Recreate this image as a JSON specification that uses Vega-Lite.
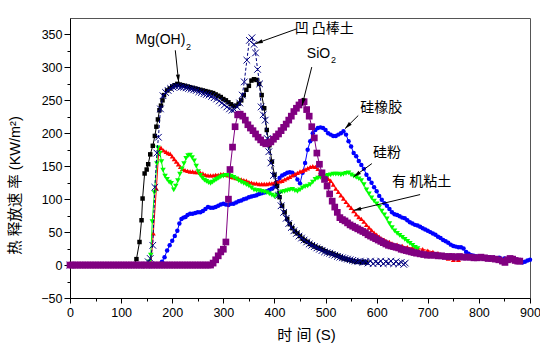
{
  "$schema": "https://vega.github.io/schema/vega-lite/v6.json",
  "width": 460,
  "height": 280,
  "autosize": {"type": "none"},
  "padding": {"left": 70, "top": 18, "right": 10, "bottom": 49},
  "background": "white",
  "config": {
    "font": "Liberation Sans, Arial, Noto Sans CJK SC",
    "view": {"stroke": "#555", "strokeWidth": 1},
    "axis": {"domainColor": "#000", "tickColor": "#000", "labelColor": "#000", "titleColor": "#000", "grid": false, "labelFontSize": 12.5, "labelOverlap": false, "labelFlush": false, "titleFontWeight": "normal"}
  },
  "encoding": {
    "x": {"field": "t", "type": "quantitative", "scale": {"domain": [0, 900], "nice": false, "zero": false},
      "axis": {"title": "时 间  (S)", "values": [0,50,100,150,200,250,300,350,400,450,500,550,600,650,700,750,800,850,900],
        "labelExpr": "datum.value % 100 === 0 ? datum.label : ''", "format": "d",
        "tickSize": {"condition": {"test": "datum.value % 100 !== 0", "value": 3}, "value": 5},
        "labelPadding": 3, "titleFontSize": 15, "titleY": 36, "titleBaseline": "middle", "titleX": 236}},
    "y": {"field": "v", "type": "quantitative", "scale": {"domain": [-50, 375], "nice": false, "zero": false},
      "axis": {"title": "热 释放速 率 (KW/m²)", "values": [-50,-25,0,25,50,75,100,125,150,175,200,225,250,275,300,325,350],
        "labelExpr": "datum.value % 50 === 0 ? datum.label : ''", "format": "d",
        "tickSize": {"condition": {"test": "datum.value % 50 !== 0", "value": 3}, "value": 6},
        "labelPadding": 2, "titleFontSize": 14.5, "titleX": -55, "titleY": 167, "titleAngle": 270, "titleBaseline": "middle", "titleAlign": "center"}}
  },
  "layer": [
    {
      "data": {"values": [
        {"t":0,"v":0},{"t":175,"v":0},{"t":180,"v":5},{"t":185,"v":12},{"t":190,"v":22},{"t":195,"v":30},{"t":200,"v":37},{"t":205,"v":44},{"t":210,"v":52},{"t":214,"v":63},{"t":218,"v":70},{"t":222,"v":72},{"t":226,"v":73},{"t":230,"v":76},{"t":235,"v":78},{"t":240,"v":78},{"t":245,"v":79},{"t":250,"v":80},{"t":255,"v":80},{"t":260,"v":82},{"t":265,"v":85},{"t":270,"v":88},{"t":275,"v":87},{"t":280,"v":87},{"t":285,"v":88},{"t":290,"v":90},{"t":295,"v":92},{"t":300,"v":93},{"t":305,"v":92},{"t":310,"v":91},{"t":315,"v":93},{"t":320,"v":93},{"t":325,"v":95},{"t":330,"v":97},{"t":335,"v":98},{"t":340,"v":100},{"t":345,"v":101},{"t":350,"v":103},{"t":355,"v":104},{"t":360,"v":105},{"t":365,"v":106},{"t":370,"v":108},{"t":375,"v":109},{"t":380,"v":110},{"t":385,"v":112},{"t":390,"v":114},{"t":395,"v":116},{"t":400,"v":120},{"t":405,"v":126},{"t":410,"v":132},{"t":415,"v":136},{"t":420,"v":138},{"t":425,"v":140},{"t":430,"v":141},{"t":435,"v":140},{"t":440,"v":137},{"t":445,"v":130},{"t":450,"v":124},{"t":455,"v":140},{"t":460,"v":155},{"t":465,"v":175},{"t":470,"v":188},{"t":475,"v":200},{"t":480,"v":205},{"t":485,"v":208},{"t":490,"v":209},{"t":495,"v":208},{"t":500,"v":205},{"t":505,"v":200},{"t":510,"v":198},{"t":515,"v":196},{"t":520,"v":196},{"t":525,"v":198},{"t":530,"v":200},{"t":535,"v":203},{"t":540,"v":198},{"t":545,"v":188},{"t":550,"v":180},{"t":555,"v":170},{"t":560,"v":165},{"t":565,"v":158},{"t":570,"v":152},{"t":575,"v":146},{"t":580,"v":137},{"t":585,"v":131},{"t":590,"v":125},{"t":595,"v":118},{"t":600,"v":112},{"t":605,"v":105},{"t":610,"v":99},{"t":615,"v":94},{"t":620,"v":90},{"t":625,"v":85},{"t":630,"v":80},{"t":635,"v":77},{"t":640,"v":76},{"t":645,"v":74},{"t":650,"v":72},{"t":655,"v":71},{"t":660,"v":68},{"t":665,"v":65},{"t":670,"v":63},{"t":675,"v":61},{"t":680,"v":60},{"t":685,"v":58},{"t":690,"v":56},{"t":695,"v":54},{"t":700,"v":52},{"t":705,"v":50},{"t":710,"v":48},{"t":715,"v":46},{"t":720,"v":43},{"t":725,"v":41},{"t":730,"v":38},{"t":735,"v":36},{"t":740,"v":34},{"t":745,"v":31},{"t":750,"v":29},{"t":755,"v":28},{"t":760,"v":27},{"t":765,"v":27},{"t":770,"v":25},{"t":775,"v":20},{"t":780,"v":17},{"t":785,"v":15},{"t":790,"v":14},{"t":795,"v":13},{"t":800,"v":13},{"t":810,"v":12},{"t":820,"v":12},{"t":830,"v":11},{"t":840,"v":11},{"t":850,"v":10},{"t":860,"v":9},{"t":870,"v":8},{"t":880,"v":6},{"t":885,"v":4},{"t":890,"v":5},{"t":895,"v":7},{"t":900,"v":8}
      ]},
      "mark": {"type": "line", "color": "#0000FF", "strokeWidth": 1, "point": {"shape": "circle", "size": 20, "filled": true, "color": "#0000FF"}}
    },
    {
      "data": {"values": [
        {"t":0,"v":0},{"t":158,"v":0},{"t":163,"v":48},{"t":169,"v":116},{"t":174,"v":177},{"t":178,"v":178},{"t":183,"v":174},{"t":188,"v":172},{"t":192,"v":170},{"t":196,"v":169},{"t":200,"v":165},{"t":204,"v":161},{"t":208,"v":157},{"t":212,"v":153},{"t":216,"v":149},{"t":220,"v":146},{"t":225,"v":144},{"t":230,"v":143},{"t":235,"v":142},{"t":240,"v":142},{"t":245,"v":141},{"t":250,"v":141},{"t":255,"v":140},{"t":260,"v":139},{"t":265,"v":137},{"t":270,"v":136},{"t":275,"v":136},{"t":280,"v":136},{"t":285,"v":137},{"t":290,"v":137},{"t":295,"v":138},{"t":300,"v":138},{"t":305,"v":137},{"t":310,"v":136},{"t":315,"v":134},{"t":320,"v":133},{"t":325,"v":132},{"t":330,"v":131},{"t":335,"v":130},{"t":340,"v":129},{"t":345,"v":128},{"t":350,"v":126},{"t":355,"v":125},{"t":360,"v":124},{"t":365,"v":124},{"t":370,"v":123},{"t":375,"v":123},{"t":380,"v":123},{"t":385,"v":123},{"t":390,"v":124},{"t":395,"v":124},{"t":400,"v":125},{"t":405,"v":126},{"t":410,"v":127},{"t":415,"v":128},{"t":420,"v":130},{"t":425,"v":132},{"t":430,"v":134},{"t":435,"v":136},{"t":440,"v":138},{"t":445,"v":140},{"t":450,"v":142},{"t":455,"v":143},{"t":460,"v":145},{"t":465,"v":147},{"t":470,"v":149},{"t":475,"v":150},{"t":480,"v":149},{"t":485,"v":146},{"t":490,"v":141},{"t":495,"v":137},{"t":500,"v":134},{"t":505,"v":131},{"t":510,"v":128},{"t":515,"v":122},{"t":520,"v":116},{"t":525,"v":111},{"t":530,"v":106},{"t":535,"v":101},{"t":540,"v":96},{"t":545,"v":91},{"t":550,"v":87},{"t":555,"v":82},{"t":560,"v":77},{"t":565,"v":73},{"t":570,"v":70},{"t":575,"v":66},{"t":580,"v":61},{"t":585,"v":57},{"t":590,"v":53},{"t":595,"v":49},{"t":600,"v":46},{"t":605,"v":43},{"t":610,"v":40},{"t":615,"v":38},{"t":620,"v":36},{"t":625,"v":35},{"t":630,"v":33},{"t":640,"v":31},{"t":650,"v":29},{"t":660,"v":27},{"t":670,"v":26},{"t":680,"v":25},{"t":690,"v":24},{"t":700,"v":22},{"t":710,"v":20},{"t":720,"v":18},{"t":730,"v":15},{"t":740,"v":10},{"t":750,"v":8},{"t":760,"v":8}
      ]},
      "mark": {"type": "line", "color": "#FF0000", "strokeWidth": 1, "point": {"shape": "triangle-up", "size": 25, "filled": true, "color": "#FF0000"}}
    },
    {
      "data": {"values": [
        {"t":0,"v":0},{"t":150,"v":0},{"t":155,"v":5},{"t":158,"v":15},{"t":161,"v":66},{"t":165,"v":110},{"t":170,"v":154},{"t":172,"v":178},{"t":176,"v":170},{"t":179,"v":157},{"t":182,"v":144},{"t":186,"v":135},{"t":190,"v":130},{"t":194,"v":126},{"t":198,"v":124},{"t":203,"v":114},{"t":207,"v":120},{"t":211,"v":128},{"t":215,"v":138},{"t":219,"v":146},{"t":223,"v":154},{"t":227,"v":162},{"t":231,"v":166},{"t":235,"v":167},{"t":239,"v":163},{"t":243,"v":158},{"t":247,"v":150},{"t":251,"v":142},{"t":255,"v":136},{"t":259,"v":132},{"t":263,"v":129},{"t":267,"v":127},{"t":271,"v":125},{"t":275,"v":124},{"t":279,"v":126},{"t":283,"v":128},{"t":287,"v":130},{"t":291,"v":132},{"t":295,"v":134},{"t":300,"v":135},{"t":305,"v":136},{"t":310,"v":136},{"t":315,"v":135},{"t":320,"v":133},{"t":325,"v":131},{"t":330,"v":128},{"t":335,"v":126},{"t":340,"v":124},{"t":345,"v":122},{"t":350,"v":120},{"t":355,"v":117},{"t":360,"v":114},{"t":365,"v":113},{"t":370,"v":113},{"t":375,"v":112},{"t":380,"v":111},{"t":385,"v":110},{"t":390,"v":108},{"t":395,"v":106},{"t":400,"v":104},{"t":405,"v":106},{"t":410,"v":109},{"t":415,"v":111},{"t":420,"v":112},{"t":425,"v":113},{"t":430,"v":114},{"t":435,"v":115},{"t":440,"v":113},{"t":445,"v":112},{"t":450,"v":114},{"t":455,"v":117},{"t":460,"v":119},{"t":465,"v":120},{"t":470,"v":122},{"t":475,"v":126},{"t":480,"v":130},{"t":485,"v":132},{"t":490,"v":133},{"t":495,"v":134},{"t":500,"v":135},{"t":505,"v":136},{"t":510,"v":137},{"t":515,"v":138},{"t":520,"v":138},{"t":525,"v":138},{"t":530,"v":137},{"t":535,"v":138},{"t":540,"v":139},{"t":545,"v":140},{"t":550,"v":137},{"t":555,"v":135},{"t":560,"v":133},{"t":565,"v":131},{"t":570,"v":128},{"t":575,"v":122},{"t":580,"v":114},{"t":585,"v":108},{"t":590,"v":102},{"t":595,"v":97},{"t":600,"v":93},{"t":605,"v":88},{"t":610,"v":82},{"t":615,"v":76},{"t":620,"v":70},{"t":625,"v":63},{"t":630,"v":57},{"t":635,"v":52},{"t":640,"v":48},{"t":645,"v":45},{"t":650,"v":42},{"t":655,"v":39},{"t":660,"v":36},{"t":665,"v":33},{"t":670,"v":30},{"t":675,"v":27},{"t":680,"v":25}
      ]},
      "mark": {"type": "line", "color": "#00FF00", "strokeWidth": 1, "point": {"shape": "triangle-down", "size": 30, "filled": true, "color": "#00FF00"}}
    },
    {
      "data": {"values": [
        {"t":0,"v":0},{"t":125,"v":0},{"t":130,"v":9},{"t":136,"v":35},{"t":140,"v":68},{"t":142,"v":101},{"t":146,"v":139},{"t":150,"v":145},{"t":153,"v":153},{"t":157,"v":168},{"t":162,"v":181},{"t":166,"v":196},{"t":169,"v":210},{"t":172,"v":221},{"t":175,"v":235},{"t":178,"v":242},{"t":181,"v":250},{"t":184,"v":258},{"t":190,"v":265},{"t":195,"v":268},{"t":200,"v":271},{"t":205,"v":273},{"t":210,"v":275},{"t":215,"v":274},{"t":220,"v":273},{"t":225,"v":272},{"t":230,"v":271},{"t":235,"v":270},{"t":240,"v":269},{"t":245,"v":268},{"t":250,"v":267},{"t":255,"v":266},{"t":260,"v":265},{"t":265,"v":264},{"t":270,"v":263},{"t":275,"v":262},{"t":280,"v":261},{"t":285,"v":259},{"t":290,"v":257},{"t":295,"v":255},{"t":300,"v":252},{"t":305,"v":250},{"t":310,"v":247},{"t":315,"v":244},{"t":320,"v":241},{"t":325,"v":242},{"t":330,"v":245},{"t":335,"v":250},{"t":340,"v":258},{"t":345,"v":266},{"t":350,"v":272},{"t":355,"v":280},{"t":360,"v":282},{"t":365,"v":281},{"t":370,"v":275},{"t":375,"v":258},{"t":380,"v":238},{"t":385,"v":205},{"t":390,"v":182},{"t":395,"v":157},{"t":400,"v":137},{"t":405,"v":120},{"t":410,"v":103},{"t":415,"v":90},{"t":420,"v":80},{"t":425,"v":70},{"t":430,"v":62},{"t":435,"v":56},{"t":440,"v":51},{"t":445,"v":48},{"t":450,"v":44},{"t":455,"v":40},{"t":460,"v":37},{"t":465,"v":35},{"t":470,"v":32},{"t":475,"v":30},{"t":480,"v":28},{"t":485,"v":26},{"t":490,"v":25},{"t":495,"v":23},{"t":500,"v":21},{"t":505,"v":19},{"t":510,"v":18},{"t":515,"v":17},{"t":520,"v":15},{"t":525,"v":14},{"t":530,"v":12},{"t":535,"v":10},{"t":540,"v":9},{"t":545,"v":8},{"t":550,"v":7},{"t":555,"v":6},{"t":560,"v":5},{"t":565,"v":5},{"t":570,"v":4},{"t":575,"v":5},{"t":580,"v":4}
      ]},
      "mark": {"type": "line", "color": "#000000", "strokeWidth": 1, "point": {"shape": "square", "size": 20, "filled": true, "color": "#000000"}}
    },
    {
      "data": {"values": [
        {"t":0,"v":0},{"t":150,"v":0},{"t":153,"v":5},{"t":157,"v":10},{"t":162,"v":30},{"t":166,"v":118},{"t":170,"v":170},{"t":173,"v":194},{"t":177,"v":237},{"t":182,"v":257},{"t":187,"v":262},{"t":192,"v":265},{"t":197,"v":268},{"t":202,"v":270},{"t":207,"v":271},{"t":212,"v":271},{"t":217,"v":270},{"t":222,"v":270},{"t":227,"v":269},{"t":232,"v":268},{"t":237,"v":267},{"t":242,"v":266},{"t":247,"v":265},{"t":252,"v":263},{"t":257,"v":262},{"t":262,"v":260},{"t":267,"v":259},{"t":272,"v":258},{"t":277,"v":256},{"t":282,"v":254},{"t":287,"v":252},{"t":292,"v":249},{"t":297,"v":246},{"t":302,"v":243},{"t":307,"v":240},{"t":312,"v":237},{"t":317,"v":235},{"t":322,"v":236},{"t":327,"v":240},{"t":332,"v":246},{"t":337,"v":258},{"t":341,"v":278},{"t":346,"v":311},{"t":351,"v":341},{"t":356,"v":345},{"t":360,"v":335},{"t":363,"v":322},{"t":367,"v":297},{"t":371,"v":275},{"t":374,"v":240},{"t":378,"v":228},{"t":382,"v":220},{"t":386,"v":192},{"t":389,"v":172},{"t":393,"v":155},{"t":398,"v":136},{"t":403,"v":118},{"t":408,"v":106},{"t":413,"v":90},{"t":418,"v":80},{"t":423,"v":71},{"t":428,"v":63},{"t":433,"v":57},{"t":438,"v":52},{"t":443,"v":48},{"t":448,"v":44},{"t":453,"v":41},{"t":458,"v":38},{"t":463,"v":35},{"t":468,"v":32},{"t":473,"v":30},{"t":478,"v":28},{"t":483,"v":26},{"t":488,"v":24},{"t":493,"v":22},{"t":498,"v":20},{"t":503,"v":19},{"t":508,"v":18},{"t":513,"v":16},{"t":518,"v":15},{"t":523,"v":13},{"t":528,"v":12},{"t":533,"v":11},{"t":538,"v":10},{"t":543,"v":9},{"t":548,"v":8},{"t":553,"v":7},{"t":558,"v":6},{"t":563,"v":5},{"t":568,"v":6},{"t":573,"v":4},{"t":578,"v":5},{"t":583,"v":3},{"t":588,"v":6},{"t":593,"v":2},{"t":598,"v":5},{"t":603,"v":3},{"t":608,"v":6},{"t":613,"v":2},{"t":618,"v":5},{"t":623,"v":3},{"t":628,"v":6},{"t":633,"v":2},{"t":638,"v":5},{"t":643,"v":2},{"t":648,"v":4},{"t":653,"v":1},{"t":656,"v":3}
      ]},
      "mark": {"type": "line", "color": "#000080", "strokeWidth": 1, "strokeDash": [3, 2], "point": {"shape": "M-1,-1L1,1M-1,1L1,-1", "size": 44, "filled": false, "stroke": "#000080", "strokeWidth": 1}}
    },
    {
      "data": {"values": [
        {"t":0,"v":0},{"t":5,"v":0},{"t":10,"v":0},{"t":15,"v":0},{"t":20,"v":0},{"t":25,"v":0},{"t":30,"v":0},{"t":35,"v":0},{"t":40,"v":0},{"t":45,"v":0},{"t":50,"v":0},{"t":55,"v":0},{"t":60,"v":0},{"t":65,"v":0},{"t":70,"v":0},{"t":75,"v":0},{"t":80,"v":0},{"t":85,"v":0},{"t":90,"v":0},{"t":95,"v":0},{"t":100,"v":0},{"t":105,"v":0},{"t":110,"v":0},{"t":115,"v":0},{"t":120,"v":0},{"t":125,"v":0},{"t":130,"v":0},{"t":135,"v":0},{"t":140,"v":0},{"t":145,"v":0},{"t":150,"v":0},{"t":155,"v":0},{"t":160,"v":0},{"t":165,"v":0},{"t":170,"v":0},{"t":175,"v":0},{"t":180,"v":0},{"t":185,"v":0},{"t":190,"v":0},{"t":195,"v":0},{"t":200,"v":0},{"t":205,"v":0},{"t":210,"v":0},{"t":215,"v":0},{"t":220,"v":0},{"t":225,"v":0},{"t":230,"v":0},{"t":235,"v":0},{"t":240,"v":0},{"t":245,"v":0},{"t":250,"v":0},{"t":255,"v":0},{"t":260,"v":0},{"t":265,"v":0},{"t":270,"v":0},{"t":275,"v":0},{"t":280,"v":3},{"t":285,"v":8},{"t":290,"v":14},{"t":295,"v":20},{"t":300,"v":24},{"t":305,"v":35},{"t":310,"v":100},{"t":313,"v":145},{"t":318,"v":179},{"t":323,"v":210},{"t":328,"v":228},{"t":333,"v":229},{"t":338,"v":226},{"t":343,"v":220},{"t":348,"v":213},{"t":353,"v":208},{"t":358,"v":204},{"t":363,"v":199},{"t":368,"v":194},{"t":373,"v":190},{"t":378,"v":186},{"t":383,"v":184},{"t":388,"v":185},{"t":393,"v":187},{"t":398,"v":191},{"t":403,"v":195},{"t":408,"v":199},{"t":413,"v":204},{"t":418,"v":209},{"t":423,"v":214},{"t":428,"v":220},{"t":433,"v":226},{"t":438,"v":233},{"t":443,"v":238},{"t":448,"v":243},{"t":453,"v":247},{"t":458,"v":248},{"t":463,"v":236},{"t":468,"v":226},{"t":473,"v":210},{"t":478,"v":193},{"t":483,"v":170},{"t":488,"v":153},{"t":493,"v":140},{"t":498,"v":130},{"t":503,"v":120},{"t":508,"v":108},{"t":513,"v":97},{"t":518,"v":88},{"t":523,"v":80},{"t":528,"v":72},{"t":533,"v":69},{"t":538,"v":67},{"t":543,"v":64},{"t":548,"v":61},{"t":553,"v":59},{"t":558,"v":57},{"t":563,"v":55},{"t":568,"v":53},{"t":573,"v":51},{"t":578,"v":49},{"t":583,"v":46},{"t":588,"v":44},{"t":593,"v":42},{"t":598,"v":40},{"t":603,"v":38},{"t":608,"v":36},{"t":613,"v":34},{"t":618,"v":32},{"t":623,"v":30},{"t":628,"v":29},{"t":633,"v":28},{"t":638,"v":27},{"t":643,"v":26},{"t":648,"v":24},{"t":653,"v":23},{"t":658,"v":22},{"t":663,"v":21},{"t":668,"v":20},{"t":673,"v":19},{"t":678,"v":18},{"t":685,"v":17},{"t":692,"v":16},{"t":699,"v":15},{"t":706,"v":15},{"t":713,"v":15},{"t":720,"v":14},{"t":727,"v":14},{"t":734,"v":13},{"t":741,"v":13},{"t":748,"v":13},{"t":755,"v":12},{"t":762,"v":13},{"t":769,"v":12},{"t":776,"v":12},{"t":783,"v":12},{"t":790,"v":11},{"t":797,"v":11},{"t":804,"v":12},{"t":811,"v":11},{"t":818,"v":10},{"t":825,"v":10},{"t":832,"v":9},{"t":839,"v":8},{"t":846,"v":6},{"t":851,"v":4},{"t":856,"v":8},{"t":861,"v":10},{"t":866,"v":9},{"t":871,"v":7},{"t":876,"v":6},{"t":880,"v":6}
      ]},
      "mark": {"type": "line", "color": "#800080", "strokeWidth": 1, "point": {"shape": "square", "size": 45, "filled": true, "color": "#800080"}}
    },
    {
      "data": {"values": [
        {"t":212.6,"v":277.7,"t0":206,"v0":326},
        {"t":362.5,"v":336,"t0":444,"v0":358.6},
        {"t":454,"v":242,"t0":473,"v0":300.5},
        {"t":538,"v":207,"t0":564,"v0":227},
        {"t":555,"v":134,"t0":590.6,"v0":154},
        {"t":555,"v":83,"t0":685,"v0":107}
      ]},
      "transform": [{"calculate": "atan2((datum.t - datum.t0) * 0.5111, (datum.v - datum.v0) * 0.6588) * 180 / PI", "as": "ang"}],
      "layer": [
        {"mark": {"type": "rule", "color": "#000", "strokeWidth": 1}, "encoding": {"x2": {"field": "t0"}, "y2": {"field": "v0"}}},
        {"mark": {"type": "point", "shape": "M0,0L-0.4,1.5L0.4,1.5Z", "size": 100, "filled": true, "color": "#000", "opacity": 1}, "encoding": {"angle": {"field": "ang", "type": "quantitative", "scale": null}}}
      ]
    },
    {
      "data": {"values": [
        {"t":225.7,"v":341,"label":"Mg(OH)"},
        {"t":509,"v":321,"label":"SiO"}
      ]},
      "mark": {"type": "text", "align": "right", "baseline": "middle", "fontSize": 14, "color": "#000"},
      "encoding": {"text": {"field": "label"}}
    },
    {
      "data": {"values": [
        {"t":227,"v":331,"label":"2"},
        {"t":510.5,"v":311,"label":"2"}
      ]},
      "mark": {"type": "text", "align": "left", "baseline": "middle", "fontSize": 9, "color": "#000"},
      "encoding": {"text": {"field": "label"}}
    },
    {
      "data": {"values": [
        {"t":497.5,"v":359,"label":"凹 凸棒土"},
        {"t":608.8,"v":238,"label":"硅橡胶"},
        {"t":620,"v":170,"label":"硅粉"},
        {"t":688,"v":126,"label":"有 机粘土"}
      ]},
      "mark": {"type": "text", "align": "center", "baseline": "middle", "fontSize": 14, "font": "Noto Sans CJK SC", "color": "#000"},
      "encoding": {"text": {"field": "label"}}
    }
  ]
}
